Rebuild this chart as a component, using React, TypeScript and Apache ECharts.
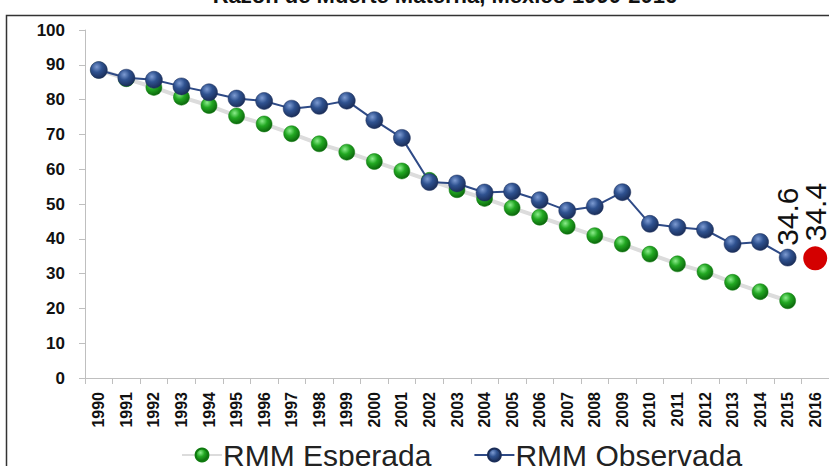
import React, { useEffect, useRef } from "react";
import * as echarts from "echarts";

const years = ["1990","1991","1992","1993","1994","1995","1996","1997","1998","1999","2000","2001","2002","2003","2004","2005","2006","2007","2008","2009","2010","2011","2012","2013","2014","2015","2016"];
const esperada = [88.5, 86.0, 83.5, 80.7, 78.3, 75.3, 73.0, 70.2, 67.3, 64.9, 62.2, 59.5, 56.8, 54.1, 51.6, 48.9, 46.2, 43.6, 40.9, 38.5, 35.6, 32.8, 30.5, 27.5, 24.8, 22.2, null];
const observada = [88.5, 86.3, 85.7, 83.8, 82.1, 80.3, 79.6, 77.4, 78.2, 79.7, 74.1, 69.0, 56.3, 55.9, 53.3, 53.6, 51.1, 48.1, 49.3, 53.4, 44.3, 43.3, 42.6, 38.5, 39.1, 34.6, null];
const valor2016 = 34.4;
const yTicks = [0, 10, 20, 30, 40, 50, 60, 70, 80, 90, 100];

export default function App() {
  const ref = useRef<HTMLDivElement>(null);
  useEffect(() => {
    if (!ref.current) return;
    const chart = echarts.init(ref.current, undefined, { renderer: "svg" });
    const blueGrad = new echarts.graphic.RadialGradient(0.38, 0.32, 0.7, [
      { offset: 0, color: "#7d9bd2" },
      { offset: 0.45, color: "#2f5290" },
      { offset: 1, color: "#1a2d58" },
    ]);
    const greenGrad = new echarts.graphic.RadialGradient(0.38, 0.32, 0.7, [
      { offset: 0, color: "#8cec8c" },
      { offset: 0.45, color: "#22a822" },
      { offset: 1, color: "#0b650b" },
    ]);
    const redData = years.map((_, i) => (i === years.length - 1 ? valor2016 : null));
    const obsData = observada.map((v, i) =>
      i === years.length - 2
        ? {
            value: v,
            label: {
              show: true,
              position: "top",
              distance: 17,
              rotate: 90,
              align: "left",
              verticalAlign: "middle",
              offset: [-14, 0],
              fontSize: 30,
              color: "#111",
              fontFamily: "Liberation Sans, Arial, sans-serif",
              formatter: (p: any) => String(p.value),
            },
          }
        : v
    );
    chart.setOption({
      animation: false,
      title: {
        text: "Razón de Muerte Materna, México 1990-2016",
        left: 440,
        textAlign: "center",
        top: -21,
        textStyle: { fontSize: 22, fontWeight: "bold", color: "#111", fontFamily: "Liberation Sans, Arial, sans-serif" },
      },
      graphic: [
        {
          type: "rect",
          shape: { x: 6.5, y: 15.5, width: 900, height: 600 },
          style: { fill: "none", stroke: "#333", lineWidth: 1.5 },
          silent: true,
          z: -1,
        },
      ],
      legend: {
        data: ["RMM Esperada", "RMM Observada"],
        left: 176,
        top: 435,
        itemWidth: 40,
        itemHeight: 16,
        itemGap: 42,
        textStyle: { fontSize: 30, color: "#222", fontFamily: "Liberation Sans, Arial, sans-serif", padding: [0, 0, 0, -4] },
      },
      grid: { left: 85, right: -7, top: 30, bottom: 88, containLabel: false },
      xAxis: {
        type: "category",
        data: years,
        boundaryGap: true,
        axisLine: { lineStyle: { color: "#bfbfbf", width: 1 } },
        axisTick: { show: true, length: 6, lineStyle: { color: "#bfbfbf" }, alignWithLabel: false },
        axisLabel: {
          rotate: 90,
          interval: 0,
          margin: 14,
          fontSize: 16,
          fontWeight: "bold",
          color: "#111",
          fontFamily: "Liberation Sans, Arial, sans-serif",
        },
        splitLine: { show: false },
      },
      yAxis: {
        type: "value",
        min: yTicks[0],
        max: yTicks[yTicks.length - 1],
        interval: 10,
        axisLine: { show: true, lineStyle: { color: "#bfbfbf", width: 1 } },
        axisTick: { show: true, length: 6, lineStyle: { color: "#bfbfbf" } },
        axisLabel: {
          margin: 20,
          fontSize: 17,
          fontWeight: "bold",
          color: "#111",
          fontFamily: "Liberation Sans, Arial, sans-serif",
        },
        splitLine: { show: false },
      },
      series: [
        {
          name: "RMM Esperada",
          type: "line",
          data: esperada,
          symbol: "circle",
          symbolSize: 16,
          lineStyle: { color: "#dcdcdc", width: 4 },
          itemStyle: { color: greenGrad, borderColor: "#0e7a0e", borderWidth: 0.5 },
          z: 2,
        },
        {
          name: "RMM Observada",
          type: "line",
          data: obsData,
          symbol: "circle",
          symbolSize: 17,
          lineStyle: { color: "#2e4a86", width: 2 },
          itemStyle: { color: blueGrad, borderColor: "#1a2d58", borderWidth: 0.5 },
          z: 3,
        },
        {
          name: "2016",
          type: "line",
          data: redData,
          symbol: "circle",
          symbolSize: 24,
          itemStyle: { color: "#d40000" },
          lineStyle: { width: 0 },
          label: {
            show: true,
            position: "top",
            distance: 11,
            rotate: 90,
            align: "left",
            verticalAlign: "middle",
            offset: [-6, 0],
            fontSize: 30,
            color: "#111",
            fontFamily: "Liberation Sans, Arial, sans-serif",
            formatter: (p: any) => (p.value == null ? "" : String(p.value)),
          },
          z: 4,
        },
      ],
    });
    return () => chart.dispose();
  }, []);
  return (
    <div
      ref={ref}
      style={{ position: "fixed", left: 0, top: 0, width: 829, height: 466, background: "#fff" }}
    />
  );
}
